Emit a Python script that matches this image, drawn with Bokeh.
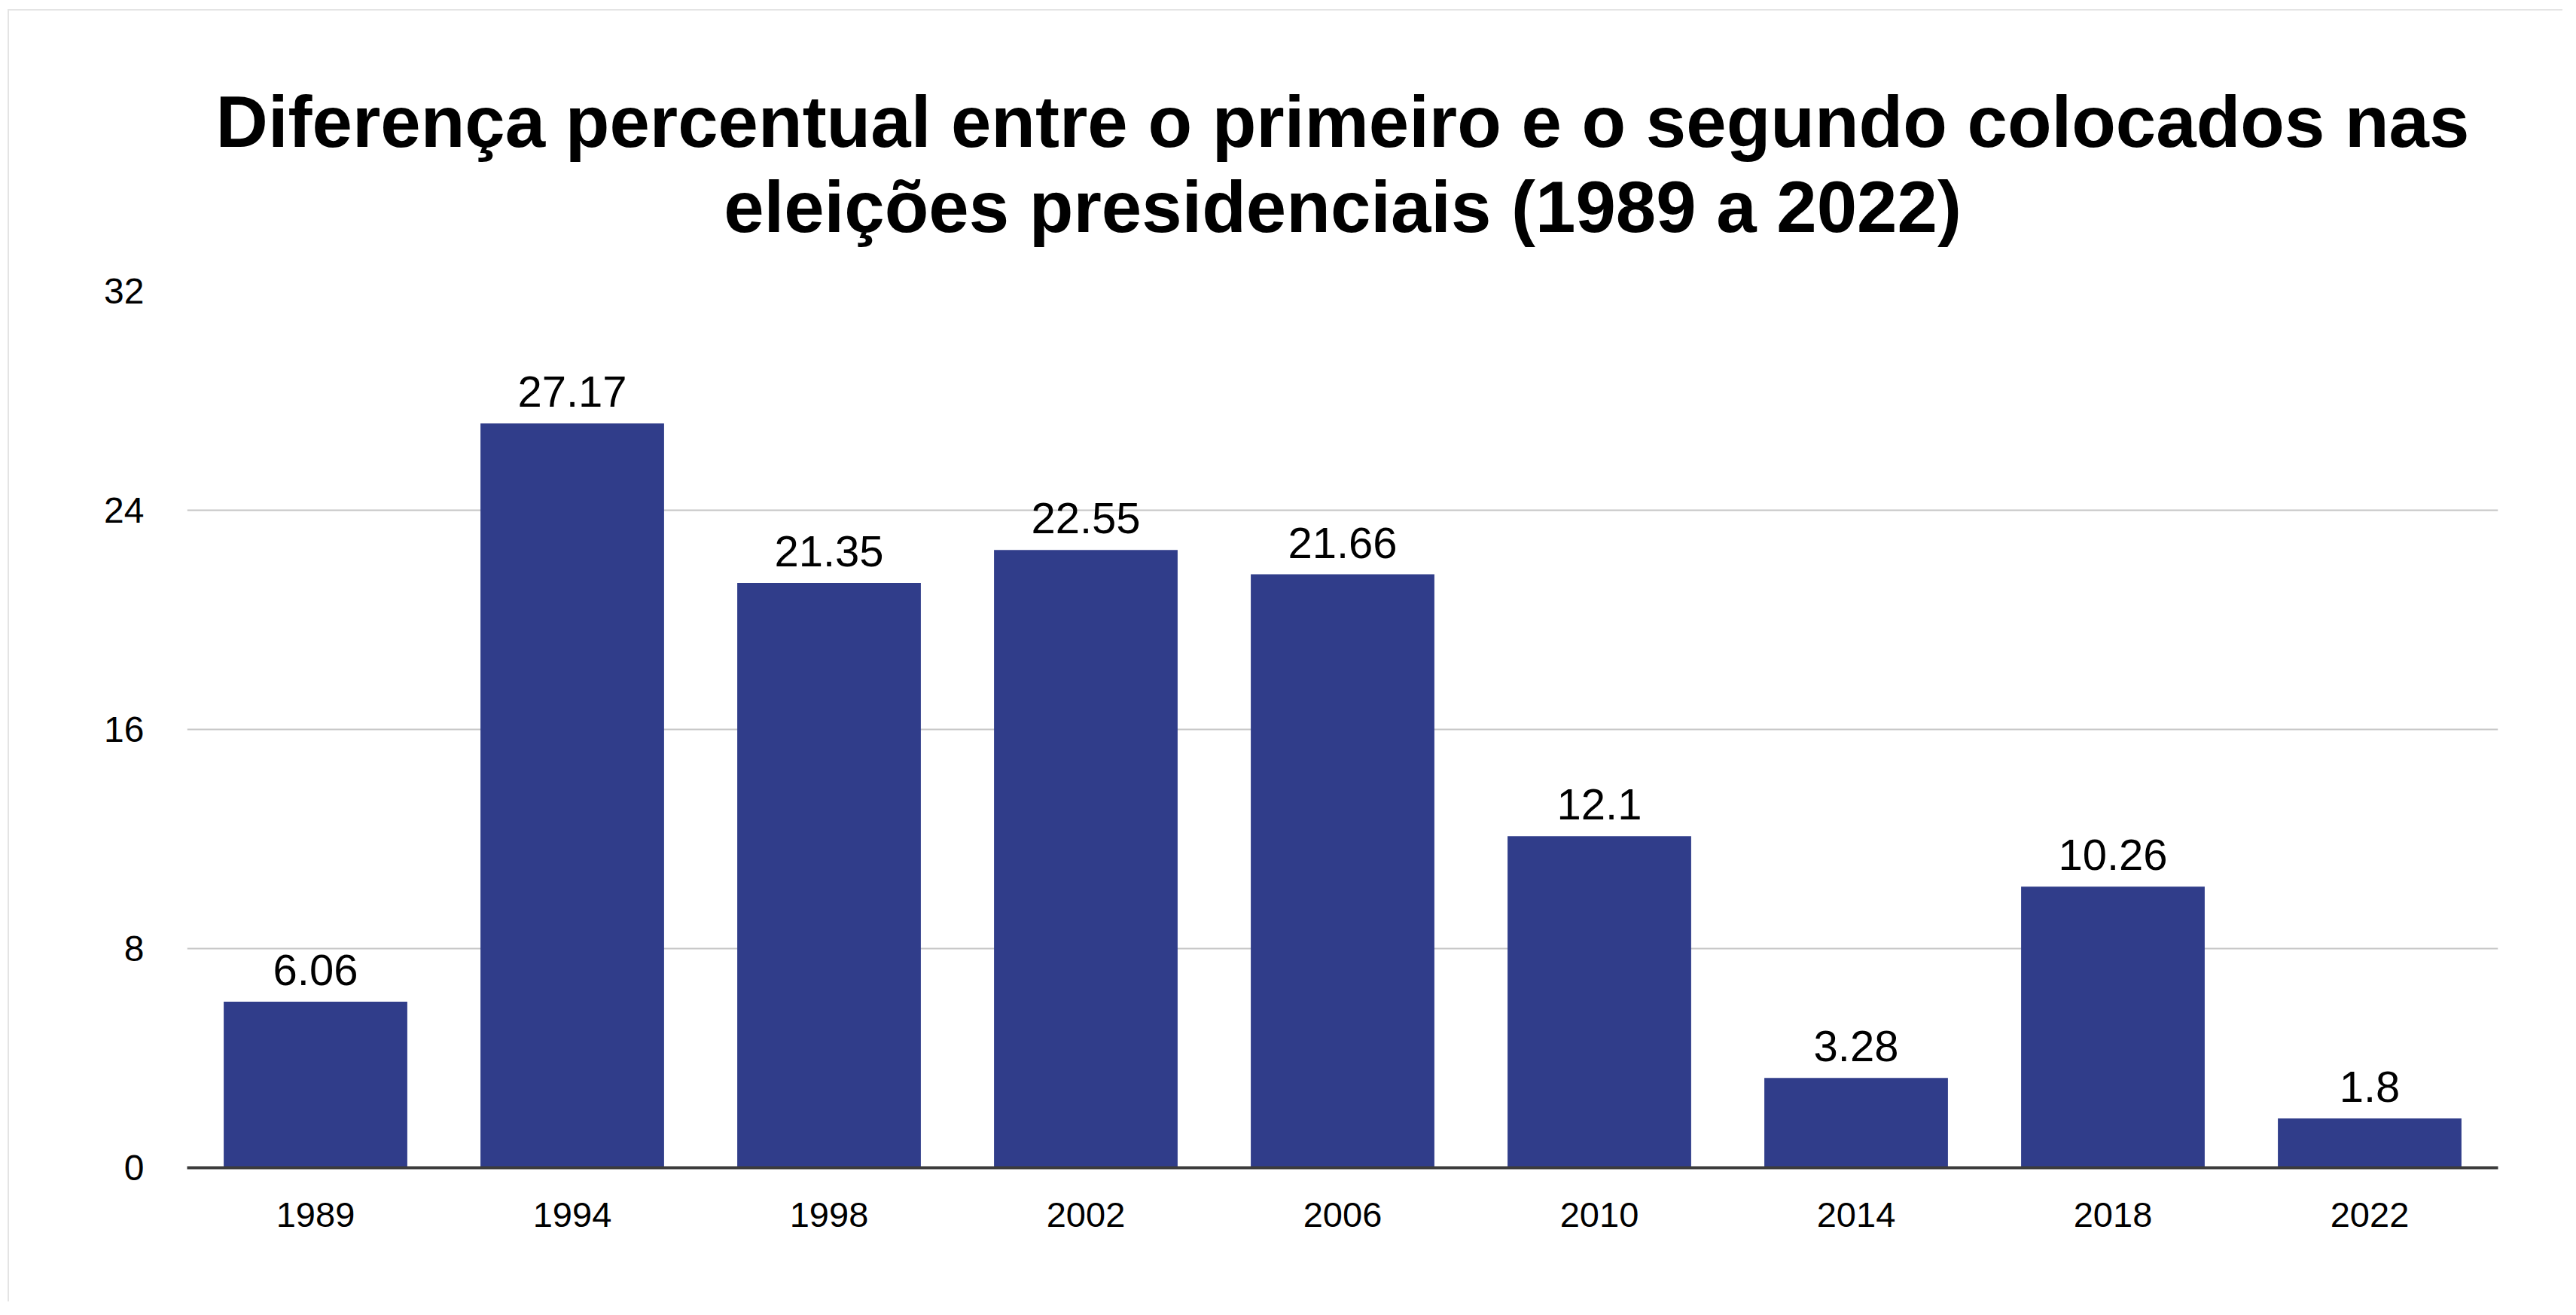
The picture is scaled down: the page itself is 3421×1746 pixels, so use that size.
from bokeh.plotting import figure
from bokeh.models import ColumnDataSource, LabelSet, FixedTicker, Title
from bokeh.core.properties import value
from bokeh.embed import file_html
from bokeh.resources import INLINE

years = ["1989", "1994", "1998", "2002", "2006", "2010", "2014", "2018", "2022"]
diffs = [6.06, 27.17, 21.35, 22.55, 21.66, 12.1, 3.28, 10.26, 1.8]
y_ticks = [0, 8, 16, 24, 32]
title_lines = ["Diferença percentual entre o primeiro e o segundo colocados nas",
               "eleições presidenciais (1989 a 2022)"]

FONT = "Liberation Sans"

source = ColumnDataSource(dict(year=years, diff=diffs, label=[str(v) for v in diffs]))

p = figure(x_range=years, y_range=(0, 32), width=3393, height=1716,
           output_backend="svg", toolbar_location=None,
           min_border_left=236, min_border_right=88, min_border_top=372, min_border_bottom=180,
           margin=(12, 0, 0, 10),
           styles={"border-left": "2px solid #e4e4e4", "border-top": "2px solid #e4e4e4"})

p.vbar(x="year", top="diff", width=0.715, source=source,
       fill_color="#303d8a", line_color=None)

labels = LabelSet(x="year", y="diff", text="label", source=source,
                  text_align="center", text_baseline="alphabetic", y_offset=22,
                  text_font=value(FONT), text_font_size="58px", text_color="#000000")
p.add_layout(labels)

# second line first (closest to the plot), then the first line above it
t2 = Title(text=title_lines[1], align="center", text_font=FONT,
           text_font_size="96px", text_font_style="bold", text_color="#000000",
           text_line_height=0.84, standoff=118)
t1 = Title(text=title_lines[0], align="center", text_font=FONT,
           text_font_size="96px", text_font_style="bold", text_color="#000000",
           text_line_height=0.84, standoff=-110)
p.add_layout(t2, "above")
p.add_layout(t1, "above")

p.outline_line_color = None
p.background_fill_color = "white"
p.border_fill_color = "white"

p.xgrid.grid_line_color = None
p.ygrid.grid_line_color = "#c6c6c6"
p.ygrid.grid_line_width = 2
p.ygrid.ticker = FixedTicker(ticks=y_ticks)

p.yaxis.ticker = FixedTicker(ticks=y_ticks)
p.yaxis.axis_line_color = None
p.yaxis.major_tick_line_color = None
p.yaxis.minor_tick_line_color = None
p.yaxis.major_tick_in = 0
p.yaxis.major_tick_out = 0
p.yaxis.major_label_standoff = 57
p.yaxis.major_label_text_font = FONT
p.yaxis.major_label_text_font_size = "48px"
p.yaxis.major_label_text_color = "#000000"

p.xaxis.axis_line_color = "#3c3c3c"
p.xaxis.axis_line_width = 4
p.xaxis.major_tick_line_color = None
p.xaxis.major_tick_in = 0
p.xaxis.major_tick_out = 0
p.xaxis.major_label_standoff = 46
p.xaxis.major_label_text_font = FONT
p.xaxis.major_label_text_font_size = "47px"
p.xaxis.major_label_text_color = "#000000"

open("out.html", "w").write(file_html(p, INLINE))
